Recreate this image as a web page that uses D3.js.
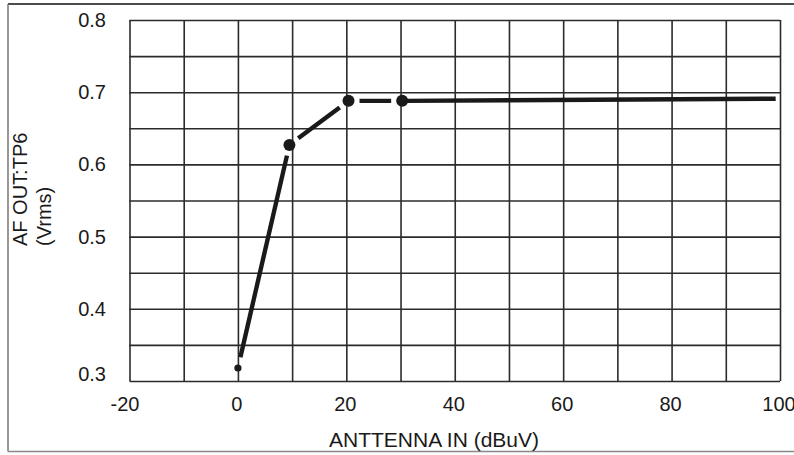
<!DOCTYPE html>
<html>
<head>
<meta charset="utf-8">
<script src="https://cdn.jsdelivr.net/npm/d3@7"></script>
<style>
  html, body { margin: 0; padding: 0; background: #fff; }
  svg { display: block; }
  text { font-family: "Liberation Sans", Arial, Helvetica, sans-serif; fill: #1a1a1a; }
</style>
</head>
<body>
<svg id="chart" width="794" height="455"></svg>
<script>
// ---- data ----
const xTickValues = [-20, 0, 20, 40, 60, 80, 100];
const xGridValues = [-20, -10, 0, 10, 20, 30, 40, 50, 60, 70, 80, 90, 100];
const yTickValues = [0.3, 0.4, 0.5, 0.6, 0.7, 0.8];
const yGridValues = [0.3, 0.35, 0.4, 0.45, 0.5, 0.55, 0.6, 0.65, 0.7, 0.75, 0.8];
// measured points (with markers)
const pointX = [0, 9.5, 20.4, 30.3];
const pointY = [0.318, 0.627, 0.688, 0.688];
// continuation of the trace after the last measured point
const tailX = [30.3, 99.2];
const tailY = [0.688, 0.691];
const xTitle = "ANTTENNA IN (dBuV)";
const yTitleLines = ["AF OUT:TP6", "(Vrms)"];

// ---- layout ----
const W = 794, H = 455;
const plot = { left: 129.5, right: 780, top: 20, bottom: 381 };
const svg = d3.select("#chart");

// outer frame
svg.append("line").attr("x1", 8).attr("x2", W + 2).attr("y1", 4).attr("y2", 4)
  .attr("stroke", "#111").attr("stroke-width", 1.5);
svg.append("line").attr("x1", 8).attr("x2", 8).attr("y1", 4).attr("y2", 451.5)
  .attr("stroke", "#777").attr("stroke-width", 1.5);
svg.append("line").attr("x1", 8).attr("x2", W + 2).attr("y1", 451.5).attr("y2", 451.5)
  .attr("stroke", "#888").attr("stroke-width", 1.5);

const x = d3.scaleLinear().domain([-20, 100]).range([plot.left, plot.right]);
const y = d3.scaleLinear().domain([0.3, 0.8]).range([plot.bottom, plot.top]);
const gridColor = "#2b2b2b";

// vertical grid
const gx = svg.append("g").attr("transform", `translate(0,${plot.bottom})`)
  .call(d3.axisBottom(x).tickValues(xGridValues).tickSize(-(plot.bottom - plot.top)).tickFormat(""));
gx.select(".domain").remove();
gx.selectAll(".tick line").attr("stroke", gridColor).attr("stroke-width", 1.6);

// horizontal grid
const gy = svg.append("g").attr("transform", `translate(${plot.left},0)`)
  .call(d3.axisLeft(y).tickValues(yGridValues).tickSize(-(plot.right - plot.left)).tickFormat(""));
gy.select(".domain").remove();
gy.selectAll(".tick line").attr("stroke", gridColor).attr("stroke-width", 1.6);

// x tick labels
const ax = svg.append("g").attr("transform", `translate(0,${plot.bottom})`)
  .call(d3.axisBottom(x).tickValues(xTickValues).tickSize(0).tickPadding(15.8).tickFormat(d => String(d)));
ax.select(".domain").remove();
ax.selectAll("text").attr("font-size", 20).attr("font-family", null).style("fill", "#1a1a1a")
  .attr("x", (d, i) => i === 0 ? -5 : -1.5);

// y tick labels
const ay = svg.append("g").attr("transform", `translate(${plot.left},0)`)
  .call(d3.axisLeft(y).tickValues(yTickValues).tickSize(0).tickPadding(23.5).tickFormat(d3.format(".1f")));
ay.select(".domain").remove();
ay.selectAll("text").attr("font-size", 20).attr("font-family", null).style("fill", "#1a1a1a")
  .attr("dy", (d, i) => i === 0 ? "-0.05em" : "0.32em");

// axis titles
svg.append("text").attr("x", 329).attr("y", 446.5).attr("font-size", 21).text(xTitle);
const yt = svg.append("text").attr("transform", "translate(27,246) rotate(-90)").attr("font-size", 20);
yTitleLines.forEach((t, i) => {
  yt.append("tspan").attr("x", 0).attr("dy", i === 0 ? 0 : 23.5).text(t);
});

// trace: segments between measured points with gaps near markers
const gap = 11;
const lineColor = "#1a1a1a";
const lw = 4.4;
const segs = d3.pairs(d3.range(pointX.length));
segs.forEach(([a, b]) => {
  const x1 = x(pointX[a]), y1 = y(pointY[a]), x2 = x(pointX[b]), y2 = y(pointY[b]);
  const len = Math.hypot(x2 - x1, y2 - y1);
  const ux = (x2 - x1) / len, uy = (y2 - y1) / len;
  svg.append("line")
    .attr("x1", x1 + ux * gap).attr("y1", y1 + uy * gap)
    .attr("x2", x2 - ux * gap).attr("y2", y2 - uy * gap)
    .attr("stroke", lineColor).attr("stroke-width", lw);
});
svg.append("path")
  .datum(d3.zip(tailX, tailY))
  .attr("d", d3.line().x(d => x(d[0])).y(d => y(d[1])))
  .attr("fill", "none").attr("stroke", lineColor).attr("stroke-width", lw);

// markers
svg.append("g").selectAll("circle")
  .data(d3.zip(pointX, pointY))
  .join("circle")
  .attr("cx", d => x(d[0])).attr("cy", d => y(d[1]))
  .attr("r", (d, i) => i === 0 ? 3.6 : 6)
  .attr("fill", lineColor);
</script>
</body>
</html>
